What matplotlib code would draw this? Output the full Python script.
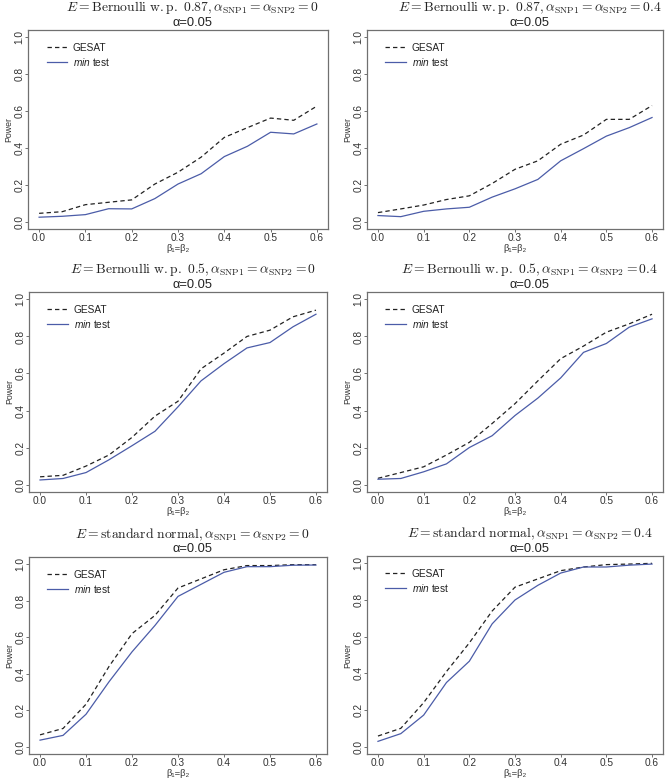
import matplotlib
matplotlib.use("Agg")
import matplotlib.pyplot as plt
from matplotlib.lines import Line2D

plt.rcParams['font.family'] = ['Liberation Sans', 'DejaVu Sans']
plt.rcParams['mathtext.fontset'] = 'custom'
plt.rcParams['mathtext.it'] = 'Liberation Sans:italic'
plt.rcParams['mathtext.rm'] = 'Liberation Sans'

beta = [0.0, 0.05, 0.1, 0.15, 0.2, 0.25, 0.3, 0.35, 0.4, 0.45, 0.5, 0.55, 0.6]

titles = [
    r"$E = \mathrm{Bernoulli\ w.p.\ }0.87, \alpha_{\mathrm{SNP1}} = \alpha_{\mathrm{SNP2}} = 0$",
    r"$E = \mathrm{Bernoulli\ w.p.\ }0.87, \alpha_{\mathrm{SNP1}} = \alpha_{\mathrm{SNP2}} = 0.4$",
    r"$E = \mathrm{Bernoulli\ w.p.\ }0.5, \alpha_{\mathrm{SNP1}} = \alpha_{\mathrm{SNP2}} = 0$",
    r"$E = \mathrm{Bernoulli\ w.p.\ }0.5, \alpha_{\mathrm{SNP1}} = \alpha_{\mathrm{SNP2}} = 0.4$",
    r"$E = \mathrm{standard\ normal}, \alpha_{\mathrm{SNP1}} = \alpha_{\mathrm{SNP2}} = 0$",
    r"$E = \mathrm{standard\ normal}, \alpha_{\mathrm{SNP1}} = \alpha_{\mathrm{SNP2}} = 0.4$",
]
subtitle = "\u03b1=0.05"
xlabel = "\u03b2\u2081=\u03b2\u2082"
ylabel = "Power"
legend_labels = ['GESAT', r'$min$ test']
xticks = [0.0, 0.1, 0.2, 0.3, 0.4, 0.5, 0.6]
yticks = [0.0, 0.2, 0.4, 0.6, 0.8, 1.0]

gesat_b87_0 = [0.045, 0.054, 0.092, 0.105, 0.118, 0.204, 0.268, 0.35, 0.457, 0.51, 0.562, 0.55, 0.627]
min_b87_0 = [0.024, 0.029, 0.038, 0.07, 0.069, 0.125, 0.204, 0.26, 0.353, 0.409, 0.485, 0.476, 0.53]

gesat_b87_4 = [0.049, 0.069, 0.09, 0.12, 0.14, 0.207, 0.284, 0.33, 0.42, 0.47, 0.555, 0.555, 0.63]
min_b87_4 = [0.033, 0.027, 0.056, 0.069, 0.078, 0.133, 0.178, 0.229, 0.33, 0.396, 0.464, 0.51, 0.565]

gesat_b5_0 = [0.042, 0.05, 0.10, 0.16, 0.255, 0.37, 0.45, 0.625, 0.71, 0.80, 0.834, 0.906, 0.942]
min_b5_0 = [0.025, 0.033, 0.065, 0.134, 0.21, 0.288, 0.42, 0.56, 0.653, 0.738, 0.767, 0.852, 0.92]

gesat_b5_4 = [0.034, 0.065, 0.096, 0.16, 0.228, 0.33, 0.437, 0.56, 0.68, 0.748, 0.823, 0.868, 0.92]
min_b5_4 = [0.029, 0.033, 0.069, 0.112, 0.2, 0.264, 0.373, 0.467, 0.576, 0.714, 0.762, 0.85, 0.895]

gesat_n_0 = [0.065, 0.10, 0.233, 0.44, 0.62, 0.72, 0.87, 0.92, 0.97, 0.993, 0.993, 0.998, 0.998]
min_n_0 = [0.036, 0.062, 0.178, 0.356, 0.52, 0.665, 0.824, 0.89, 0.956, 0.987, 0.987, 0.995, 0.996]

gesat_n_4 = [0.058, 0.10, 0.24, 0.41, 0.566, 0.74, 0.87, 0.915, 0.96, 0.98, 0.993, 0.996, 1.0]
min_n_4 = [0.029, 0.071, 0.172, 0.35, 0.466, 0.67, 0.80, 0.88, 0.947, 0.98, 0.98, 0.99, 0.996]

gesat_all = [gesat_b87_0, gesat_b87_4, gesat_b5_0, gesat_b5_4, gesat_n_0, gesat_n_4]
min_all = [min_b87_0, min_b87_4, min_b5_0, min_b5_4, min_n_0, min_n_4]

W, H = 667, 780
fig = plt.figure(figsize=(W / 100, H / 100), dpi=100)

# axes boxes in pixels: (left, top, right, bottom)
boxes = [
    (28, 30, 328, 229), (367, 30, 663, 229),
    (29, 292, 327, 492), (367, 292, 663, 492),
    (29, 557, 327, 754), (367, 556, 663, 754),
]
blue = '#4b5ca8'
dark = '#222222'
frame = '#707070'
tickcol = '#333333'
dash = (0, (3.5, 2.5))

for i, (l, t, r, b) in enumerate(boxes):
    ax = fig.add_axes([l / W, 1 - b / H, (r - l) / W, (b - t) / H])
    ax.plot(beta, gesat_all[i], color=dark, lw=0.9, ls=dash)
    ax.plot(beta, min_all[i], color=blue, lw=0.9)
    ax.set_xlim(-0.024, 0.624)
    ax.set_ylim(-0.04, 1.04)
    ax.set_xticks(xticks)
    ax.set_xticklabels([f"{v:.1f}" for v in xticks])
    ax.set_yticks(yticks)
    ax.set_yticklabels([f"{v:.1f}" for v in yticks], rotation=90, va='center')
    ax.tick_params(axis='both', labelsize=7.3, colors=frame, labelcolor=tickcol,
                   length=2.2, width=0.7, direction='out')
    ax.tick_params(axis='x', pad=0.8)
    ax.tick_params(axis='y', pad=0.4)
    for s in ax.spines.values():
        s.set_color(frame)
        s.set_linewidth(0.9)
    ax.set_xlabel(xlabel, fontsize=6.8, color=tickcol, labelpad=0.5)
    ax.set_ylabel(ylabel, fontsize=6.3, color=tickcol, labelpad=1.0)
    cx = (l + r) / 2 / W + 0.022
    fig.text(cx, 1 - (t - 22.5) / H, titles[i], ha='center', va='center',
             fontsize=9.8, color=dark, math_fontfamily='cm')
    fig.text(cx, 1 - (t - 7.5) / H, subtitle, ha='center', va='center',
             fontsize=9.3, color=dark)
    handles = [Line2D([], [], color=dark, lw=0.9, ls=dash),
               Line2D([], [], color=blue, lw=0.9)]
    leg = ax.legend(handles, legend_labels, loc='upper left',
                    bbox_to_anchor=(0.062, 0.935), frameon=False, fontsize=7.3,
                    handlelength=2.0, handletextpad=0.6, labelspacing=0.3,
                    borderaxespad=0, borderpad=0)
    for txt in leg.get_texts():
        txt.set_color(dark)

fig.savefig("out.png", dpi=100)
